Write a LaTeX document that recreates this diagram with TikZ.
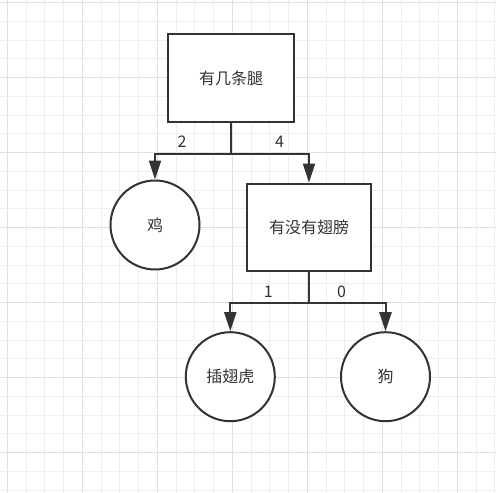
\documentclass[tikz,border=0pt]{standalone}
\usepackage{fontspec}
\newfontfamily\cjk{Noto Sans CJK SC}
\usetikzlibrary{arrows.meta}
\definecolor{ink}{HTML}{333333}
\definecolor{gridminor}{HTML}{EEEEEE}
\definecolor{gridmajor}{HTML}{E0E0E0}
\tikzset{
  boxnode/.style={draw=ink, line width=2pt, fill=white, minimum width=#1, minimum height=87pt, inner sep=0pt, font=\cjk\fontsize{16}{19}\selectfont, text=ink},
  circnode/.style={draw=ink, line width=2pt, fill=white, circle, minimum size=89pt, inner sep=0pt, font=\cjk\fontsize{16}{19}\selectfont, text=ink},
  conn/.style={draw=ink, line width=2pt, -{Triangle[width=12pt,length=19pt]}},
  lbl/.style={inner sep=0pt, font=\cjk\fontsize{16}{19}\selectfont, text=ink},
}
\begin{document}
\begin{tikzpicture}[x=1pt,y=-1pt]
\useasboundingbox (0,0) rectangle (496,493);
\fill[white] (0,0) rectangle (496,493);
% grid
\foreach \k in {0,...,26}{
  \pgfmathtruncatemacro{\m}{mod(\k,4)}
  \ifnum\m=0
    \draw[gridmajor, line width=1pt] ({7.3+18.75*\k},0) -- ({7.3+18.75*\k},493);
    \draw[gridmajor, line width=1pt] (0,{2.7+18.75*\k}) -- (496,{2.7+18.75*\k});
  \else
    \draw[gridminor, line width=1pt] ({7.3+18.75*\k},0) -- ({7.3+18.75*\k},493);
    \draw[gridminor, line width=1pt] (0,{2.7+18.75*\k}) -- (496,{2.7+18.75*\k});
  \fi
}
% nodes
\node[boxnode=126pt, minimum height=88pt] (b1) at (231,78) {有几条腿};
\node[circnode] (c1) at (155,225) {鸡};
\node[boxnode=124pt] (b2) at (309,227) {有没有翅膀};
\node[circnode] (c2) at (230.3,376.7) {插翅虎};
\node[circnode] (c3) at (385.5,376.7) {狗};
% connectors
\draw[conn] (b1.south) -- ++(0,30.7) -| (c1.north);
\draw[conn] (b1.south) -- ++(0,30.7) -| (b2.north);
\draw[conn] (b2.south) -- ++(0,31) -| (c2.north);
\draw[conn] (b2.south) -- ++(0,31) -| (c3.north);
% labels
\node[lbl] (l2) at (182,142) {2};
\node[lbl] (l4) at (279.5,142) {4};
\node[lbl] (l1) at (268.3,292) {1};
\node[lbl] (l0) at (341.5,292) {0};
\end{tikzpicture}
\end{document}
